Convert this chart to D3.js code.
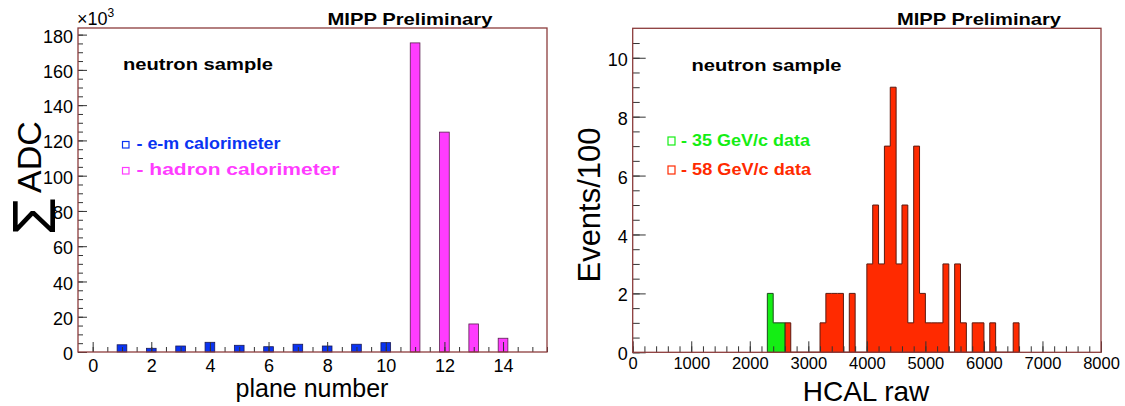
<!DOCTYPE html>
<html><head><meta charset="utf-8">
<script src="https://cdn.jsdelivr.net/npm/d3@7/dist/d3.min.js"></script>
<style>
html,body{margin:0;padding:0;background:#fff;}
svg{display:block;font-family:"Liberation Sans",Arial,Helvetica,sans-serif;}
</style></head><body>
<svg id="c" width="1125" height="406"></svg>
<script>
// ---- Left panel data: summed ADC per plane (x10^3)
const emPlanes = [1,2,3,4,5,6,7,8,9,10];
const emADC    = [4.1,2.1,3.4,5.5,3.8,3.0,4.4,3.4,4.4,5.3];
const hadPlanes = [11,12,13,14];
const hadADC    = [175.3,124.7,15.9,7.8];
const leftXTicks = [0,2,4,6,8,10,12,14];
const leftYTicks = [0,20,40,60,80,100,120,140,160,180];

// ---- Right panel data: HCAL raw histogram, bins of 100 (low edges)
const greenEdges  = [2300,2400,2500];
const greenCounts = [2,1,1];
const redEdges  = [2600,3200,3300,3400,3500,3700,4000,4100,4200,4300,4400,4500,4600,4700,4800,4900,5000,5100,5200,5300,5500,5600,5800,5900,6100,6500];
const redCounts = [1,1,2,2,2,2,3,5,3,7,9,3,5,1,7,2,1,1,1,3,3,1,1,1,1,1];
const rightXTicks = [0,1000,2000,3000,4000,5000,6000,7000,8000];
const rightYTicks = [0,2,4,6,8,10];

const svg = d3.select("#c");
const FRAME = "#8c3c3c", TICK = "#333";
const BLUE = "#0a34f2", PINK = "#ff3cff", GREEN = "#14ee14", RED = "#ff2a00";

function range(a,b,s){const r=[];for(let v=a;v<=b+1e-9;v+=s)r.push(+v.toFixed(6));return r;}
function boldText(g,x,y,txt,len,fill,anchor){
  return g.append("text").attr("x",x).attr("y",y).attr("font-size",17).attr("font-weight","bold")
    .attr("fill",fill||"#000").attr("text-anchor",anchor||"start")
    .attr("textLength",len).attr("lengthAdjust","spacingAndGlyphs").text(txt);
}

// =============== LEFT PANEL ===============
const xL = d3.scaleLinear().domain([-0.5,15.5]).range([78,547]);
const yL = d3.scaleLinear().domain([0,183.75]).range([352,28]);
const gL = svg.append("g");

const bw = 0.33;
gL.selectAll("rect.em").data(emPlanes).join("rect")
  .attr("x",(d)=>xL(d-bw/2)).attr("width",xL(bw)-xL(0))
  .attr("y",(d,i)=>yL(emADC[i])).attr("height",(d,i)=>yL(0)-yL(emADC[i]))
  .attr("fill",BLUE).attr("stroke","#1a1a55").attr("stroke-width",0.8);
gL.selectAll("rect.had").data(hadPlanes).join("rect")
  .attr("x",(d)=>xL(d-bw/2)).attr("width",xL(bw)-xL(0))
  .attr("y",(d,i)=>yL(hadADC[i])).attr("height",(d,i)=>yL(0)-yL(hadADC[i]))
  .attr("fill",PINK).attr("stroke","#5a2050").attr("stroke-width",0.8);

// axes
const axLxMinor = d3.axisBottom(xL).tickValues(range(0,15.5,0.5)).tickSize(-5).tickFormat("");
const axLx = d3.axisBottom(xL).tickValues(leftXTicks).tickSize(-10).tickPadding(0).tickFormat(d3.format("d"));
const axLyMinor = d3.axisLeft(yL).tickValues(range(0,180,5)).tickSize(-5).tickFormat("");
const axLy = d3.axisLeft(yL).tickValues(leftYTicks).tickSize(-9).tickPadding(5).tickFormat(d3.format("d"));
function styleAxis(g){g.select(".domain").remove();g.selectAll("line").attr("stroke",TICK).attr("stroke-width",1);
  g.selectAll("text").attr("fill","#000").attr("font-family","Liberation Sans, Arial, sans-serif");}
gL.append("g").attr("transform","translate(0,352)").call(axLxMinor).call(styleAxis);
gL.append("g").attr("transform","translate(0,352)").call(axLx).call(styleAxis)
  .selectAll("text").attr("font-size",18).attr("dy","19.5");
gL.append("g").attr("transform","translate(78,0)").call(axLyMinor).call(styleAxis);
gL.append("g").attr("transform","translate(78,0)").call(axLy).call(styleAxis)
  .selectAll("text").attr("font-size",18).attr("dy","0.42em");

gL.append("rect").attr("x",78).attr("y",28).attr("width",547-78).attr("height",352-28)
  .attr("fill","none").attr("stroke",FRAME).attr("stroke-width",1.3);

// exponent label
const ex = gL.append("text").attr("x",77).attr("y",25).attr("font-size",18);
ex.append("tspan").text("×10");
ex.append("tspan").attr("font-size",12).attr("dy",-8).text("3");

// titles
gL.append("text").attr("x",312).attr("y",397).attr("text-anchor","middle").attr("font-size",25).text("plane number");
gL.append("text").attr("transform","translate(55,216) rotate(-90)").attr("text-anchor","middle")
  .attr("font-size",62).attr("font-family","Liberation Sans").text("Σ");
gL.append("text").attr("transform","translate(41,157) rotate(-90)").attr("text-anchor","middle")
  .attr("font-size",34).text("ADC");

boldText(gL,410,25,"MIPP Preliminary",165,"#000","middle");
boldText(gL,123,70,"neutron sample",150);

// legend
const legL = [["- e-m calorimeter",BLUE,149,144],["- hadron calorimeter",PINK,175,203]];
legL.forEach(([t,c,y,len])=>{
  gL.append("rect").attr("x",122.5).attr("y",y-7.5).attr("width",6.5).attr("height",6.5).attr("fill","none").attr("stroke",c).attr("stroke-width",1.2);
  boldText(gL,136.5,y,t,len,c);
});

// =============== RIGHT PANEL ===============
const xR = d3.scaleLinear().domain([0,8000]).range([632.7,1101]);
const yR = d3.scaleLinear().domain([0,11]).range([352.3,28.3]);
const gR = svg.append("g");

function histPoints(edges, counts, width){
  const lo = d3.min(edges), hi = d3.max(edges)+width;
  const pts = [[lo,0]];
  for(let e=lo; e<hi-1e-6; e+=width){
    const i = edges.indexOf(e); const c = i>=0 ? counts[i] : 0;
    pts.push([e,c]); pts.push([e+width,c]);
  }
  pts.push([hi,0]);
  return pts;
}
const line = d3.line().x(d=>xR(d[0])).y(d=>yR(d[1]));
gR.append("path").attr("d",line(histPoints(redEdges,redCounts,100))+"Z")
  .attr("fill",RED).attr("stroke","#5a1a10").attr("stroke-width",1);
gR.append("path").attr("d",line(histPoints(greenEdges,greenCounts,100))+"Z")
  .attr("fill",GREEN).attr("stroke","#1a4a1a").attr("stroke-width",1);

const axRxMinor = d3.axisBottom(xR).tickValues(range(0,8000,200)).tickSize(-6).tickFormat("");
const axRx = d3.axisBottom(xR).tickValues(rightXTicks).tickSize(-11).tickPadding(0).tickFormat(d3.format("d"));
const axRyMinor = d3.axisLeft(yR).tickValues(range(0,10.5,0.5)).tickSize(-7).tickFormat("");
const axRy = d3.axisLeft(yR).tickValues(rightYTicks).tickSize(-13).tickPadding(5).tickFormat(d3.format("d"));
gR.append("g").attr("transform","translate(0,352.3)").call(axRxMinor).call(styleAxis);
const gx = gR.append("g").attr("transform","translate(0,352.3)").call(axRx).call(styleAxis);
gx.selectAll("text").attr("font-size",16.5).attr("dy","17");
gR.append("g").attr("transform","translate(632.7,0)").call(axRyMinor).call(styleAxis);
gR.append("g").attr("transform","translate(632.7,0)").call(axRy).call(styleAxis)
  .selectAll("text").attr("font-size",18).attr("dy","0.42em");

gR.append("rect").attr("x",632.7).attr("y",28.3).attr("width",1101-632.7).attr("height",352.3-28.3)
  .attr("fill","none").attr("stroke",FRAME).attr("stroke-width",1.3);

gR.append("text").attr("x",866).attr("y",401).attr("text-anchor","middle").attr("font-size",28).text("HCAL raw");
gR.append("text").attr("transform","translate(600,205) rotate(-90)").attr("text-anchor","middle").attr("font-size",31).text("Events/100");
boldText(gR,979,25,"MIPP Preliminary",164,"#000","middle");
boldText(gR,691.5,71,"neutron sample",150);

const legR = [["- 35 GeV/c data",GREEN,146,129],["- 58 GeV/c data",RED,175,130]];
legR.forEach(([t,c,y,len])=>{
  gR.append("rect").attr("x",668).attr("y",y-9).attr("width",7).attr("height",8).attr("fill","none").attr("stroke",c).attr("stroke-width",1.2);
  boldText(gR,681,y,t,len,c);
});
</script>
</body></html>
